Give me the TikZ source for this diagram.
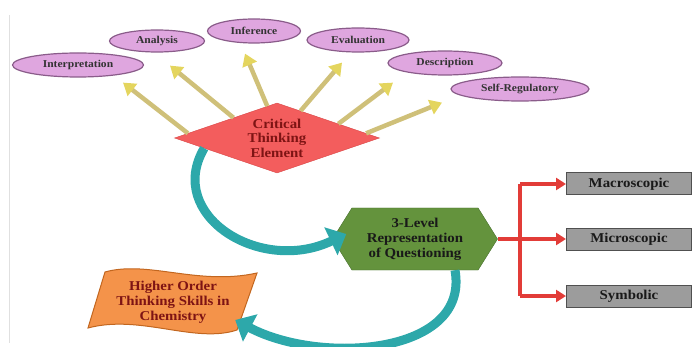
\documentclass[tikz,border=0pt]{standalone}
\usepackage{fontspec}
\setmainfont{Liberation Serif}[FakeStretch=1.1]
\usepackage{tikz}
\usetikzlibrary{arrows.meta,backgrounds,calc,%
        shapes.geometric,shapes.symbols}
\definecolor{plum}{HTML}{DFA6DF}
\definecolor{plumline}{HTML}{8A5C8A}
\definecolor{diamred}{HTML}{F35D5D}
\definecolor{diamline}{HTML}{D94545}
\definecolor{darkred}{HTML}{7E1414}
\definecolor{leaf}{HTML}{64933D}
\definecolor{leafline}{HTML}{4A7230}
\definecolor{boxgray}{HTML}{9C9C9C}
\definecolor{boxline}{HTML}{505050}
\definecolor{flag}{HTML}{F4934A}
\definecolor{flagline}{HTML}{C2661F}
\definecolor{sea}{HTML}{2DA8AA}
\definecolor{khaki}{HTML}{CFC079}
\definecolor{khakitip}{HTML}{E4D55E}
\definecolor{redline}{HTML}{E23C38}
\begin{document}
\begin{tikzpicture}[x=1pt,y=-1pt]
        \tikzstyle{skill}=[ellipse,draw=plumline,line width=1.2pt,fill=plum,%
          inner sep=0,minimum height=24pt,text=black!80,%
          font=\fontsize{10.5}{12}\selectfont\bfseries]
        \tikzstyle{element}=[diamond,aspect=2.9,draw=diamline,fill=diamred,%
          inner sep=0,minimum width=205pt,minimum height=70pt,align=center,%
          text=darkred,font=\fontsize{13.5}{14.5}\selectfont\bfseries]
        \tikzstyle{level}=[signal,signal to=east and west,signal pointer angle=116,%
          draw=leafline,fill=leaf,inner sep=0,minimum width=165pt,%
          minimum height=62pt,align=center,text=black!90,%
          font=\fontsize{13.5}{15}\selectfont\bfseries]
        \tikzstyle{kind}=[rectangle,draw=boxline,line width=1pt,fill=boxgray,%
          minimum width=125pt,minimum height=22pt,text=black!90,%
          font=\fontsize{13.5}{14}\selectfont\bfseries]
        \tikzstyle{goal}=[minimum width=150pt,minimum height=58pt,align=center,%
          text=darkred,font=\fontsize{13.5}{15}\selectfont\bfseries]
        \tikzstyle{ray}=[draw=khaki,line width=4.5pt,%
          -{Triangle[width=15pt,length=12pt,fill=khakitip,color=khakitip]}]
        \tikzstyle{tree}=[draw=redline,line width=3.5pt]
        \tikzstyle{turn}=[draw=sea,line width=9pt,%
          -{Triangle[width=30pt,length=17pt]}]

      \useasboundingbox (0,0) rectangle (695,347);
      \draw[black!12] (9.5,15) -- (9.5,343);

      \node[skill,minimum width=131pt] (interp) at (78,65) {Interpretation};
      \node[skill,minimum width=95pt,minimum height=22pt] (analysis) at (157,41) {Analysis};
      \node[skill,minimum width=93pt] (infer) at (254,31) {Inference};
      \node[skill,minimum width=102pt] (evalu) at (358,40) {Evaluation};
      \node[skill,minimum width=114pt] (descr) at (445,63) {Description};
      \node[skill,minimum width=138pt] (selfreg) at (520,89) {Self-Regulatory};

      \node[element] (cte) at (277,138) {Critical\\Thinking\\Element};
      \node[level] (rep) at (415,239) {3-Level\\Representation\\of Questioning};

      \node[kind] (macro) at (629,184) {Macroscopic};
      \node[kind] (micro) at (629,239) {Microscopic};
      \node[kind] (symb) at (629,296) {Symbolic};

      \node[goal] (hots) at (173,302) {Higher Order\\Thinking Skills in\\Chemistry};
      \begin{scope}[on background layer,shift={(hots.center)}]
        \filldraw[fill=flag,draw=flagline,line width=1pt]
          (-68,-30) .. controls (-25,-42) and (25,-16) .. (84,-29)
          -- (64,28) .. controls (22,42) and (-33,12) .. (-85,26) -- cycle;
      \end{scope}

      % rays from the element to the skills
      \foreach \a/\n/\dx/\dy in {177/interp/45/-5, 155/analysis/13/-13,%
          107/infer/-9/-10, 49/evalu/-16/-10, 13/descr/-52/-7, 3/selfreg/-78/-1}
        \draw[ray] (cte.\a) -- ([shift={(\dx pt,\dy pt)}]\n.south);

      % the three levels
      \coordinate (trunk) at (520,239);
      \draw[tree] (rep.east) -- (trunk);
      \draw[tree] (trunk |- macro.west) -- (trunk |- symb.west);
      \foreach \b in {macro,micro,symb}
        \draw[tree,-{Triangle[width=12pt,length=10pt]}] (trunk |- \b.west) -- (\b.west);

      \draw[turn] (cte.188) .. controls (165,215) and (260,275)
        .. ([shift={(14pt,5pt)}]rep.west);
      \draw[turn] ([xshift=40pt]rep.south) .. controls (470,355) and (320,365)
        .. ([shift={(-13pt,-18pt)}]hots.east);
    \end{tikzpicture}
\end{document}
